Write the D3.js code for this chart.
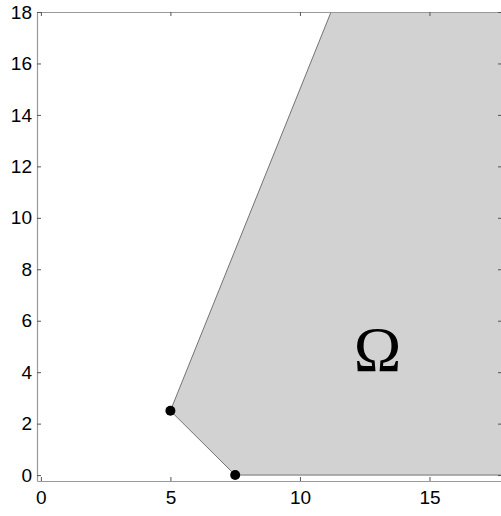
<!DOCTYPE html>
<html lang="en">
<head>
  <meta charset="UTF-8">
  <title>Omega region</title>
  <script src="https://d3js.org/d3.v7.min.js"></script>
  <style>
    body { margin: 0; background: #fff; }
    .tick text { font-family: "Liberation Sans", Arial, sans-serif; font-size: 19px; fill: #000; }
  </style>
</head>
<body>
  <div id="chart"></div>
  <script>
    // Data
    const xLim = [-0.15, 17.8];
    const yLim = [-0.23, 18];
    const xTicks = [0, 5, 10, 15];
    const yTicks = [0, 2, 4, 6, 8, 10, 12, 14, 16, 18];
    // feasible region vertices (extends past the axes and gets clipped)
    const regionX = [7.5, 5, 12, 25, 25];
    const regionY = [0, 2.5, 20, 20, 0];
    const pointX = [5, 7.5];
    const pointY = [2.5, 0];
    const regionLabel = "Ω";
    const labelPos = [13, 4.9];

    const width = 501, height = 516;
    // plot box in pixels (note: "top" is a reserved window global, so use pTop)
    const pLeft = 37, pRight = 502, pTop = 12, pBottom = 481;

    var x = d3.scaleLinear().domain(xLim).range([pLeft, pRight]);
    var y = d3.scaleLinear().domain(yLim).range([pBottom, pTop]);

    var svg = d3.select("#chart").append("svg")
      .attr("width", width)
      .attr("height", height);

    svg.append("defs").append("clipPath")
      .attr("id", "clip")
      .append("rect")
      .attr("x", pLeft).attr("y", pTop)
      .attr("width", pRight - pLeft).attr("height", pBottom - pTop);

    var plot = svg.append("g").attr("clip-path", "url(#clip)");

    var pts = regionX.map((d, i) => [x(d), y(regionY[i])]);
    plot.append("path")
      .attr("d", "M" + pts.join("L") + "Z")
      .style("fill", "#d2d2d2")
      .style("stroke", "#555")
      .style("stroke-width", 0.8);

    plot.selectAll(".pt")
      .data(pointX)
      .enter()
      .append("circle")
      .attr("class", "pt")
      .attr("cx", d => x(d))
      .attr("cy", (d, i) => y(pointY[i]))
      .attr("r", 5)
      .style("fill", "#000");

    svg.append("text")
      .attr("x", x(labelPos[0]))
      .attr("y", y(labelPos[1]))
      .attr("text-anchor", "middle")
      .attr("dy", "0.35em")
      .style("font-family", "'Liberation Serif', 'Times New Roman', serif")
      .style("font-size", "64px")
      .text(regionLabel);

    // Axes (box with inward ticks)
    var axisColor = "#999";
    var xb = svg.append("g").attr("transform", "translate(0," + pBottom + ")")
      .call(d3.axisBottom(x).tickValues(xTicks).tickSizeInner(-4).tickSizeOuter(0).tickPadding(10));
    var xt = svg.append("g").attr("transform", "translate(0," + pTop + ")")
      .call(d3.axisTop(x).tickValues(xTicks).tickSizeInner(-4).tickSizeOuter(0).tickFormat(""));
    var yl = svg.append("g").attr("transform", "translate(" + pLeft + ",0)")
      .call(d3.axisLeft(y).tickValues(yTicks).tickSizeInner(-4).tickSizeOuter(0).tickPadding(5));
    var yr = svg.append("g").attr("transform", "translate(" + pRight + ",0)")
      .call(d3.axisRight(y).tickValues(yTicks).tickSizeInner(-4).tickSizeOuter(0).tickFormat(""));

    [xb, xt, yl, yr].forEach(function (g) {
      g.select(".domain").attr("stroke", axisColor).attr("stroke-width", 1.2);
      g.selectAll(".tick line").attr("stroke", "#555").attr("stroke-width", 1);
    });
    xb.selectAll(".tick text").attr("dy", "0.71em");
  </script>
</body>
</html>
